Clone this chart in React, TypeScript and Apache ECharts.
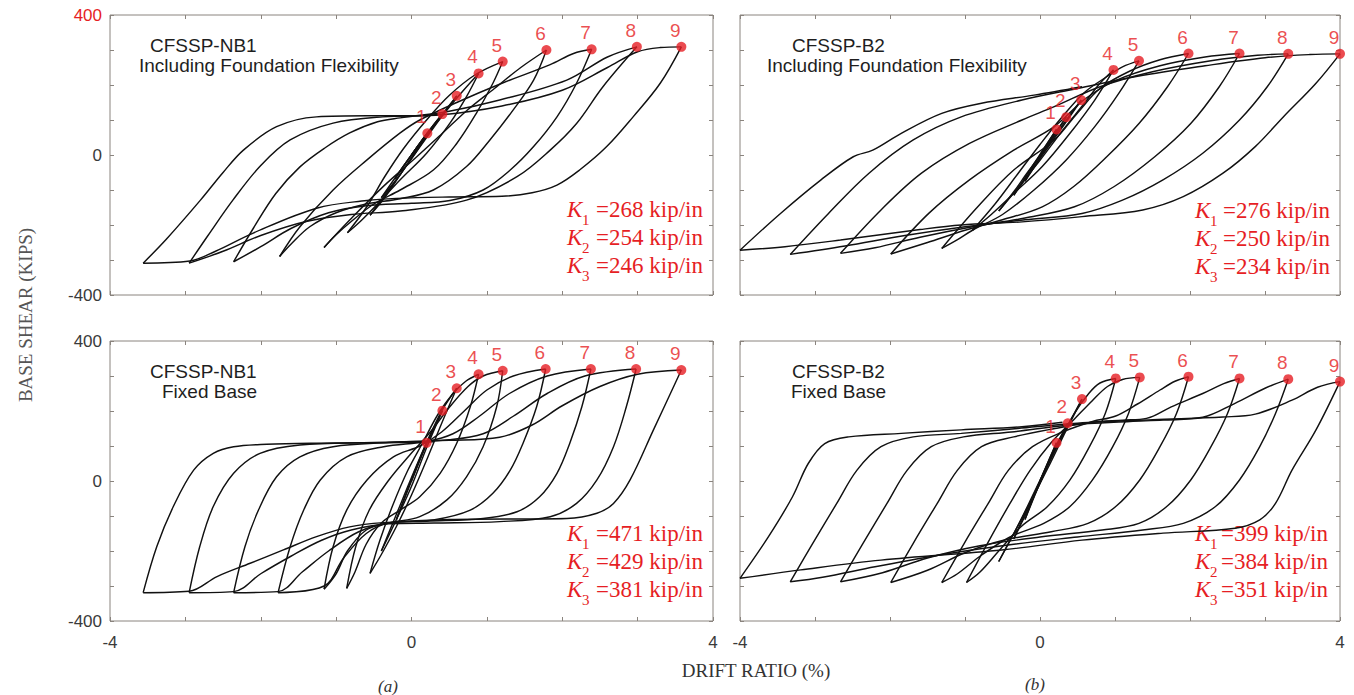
import React, { useEffect, useRef } from "react";
import * as echarts from "echarts";

type Pt = [number, number];

// ---------------- texts ----------------
const PEAK_LABELS = ["1", "2", "3", "4", "5", "6", "7", "8", "9"];
const Y_TICK_LABELS = [-400, 0, 400];
const X_TICK_LABELS = [-4, 0, 4];
const PANEL_TITLES = ["CFSSP-NB1", "CFSSP-B2", "CFSSP-NB1", "CFSSP-B2"];
const PANEL_SUBTITLES = [
  "Including Foundation Flexibility",
  "Including Foundation Flexibility",
  "Fixed Base",
  "Fixed Base",
];
const K_SUBSCRIPTS = ["1", "2", "3"];
const K_VALUES = [
  ["268", "254", "246"],
  ["276", "250", "234"],
  ["471", "429", "381"],
  ["399", "384", "351"],
];
const Y_AXIS_NAME = "BASE SHEAR (KIPS)";
const X_AXIS_NAME = "DRIFT RATIO (%)";
const GROUP_LABELS = ["(a)", "(b)"];

// ---------------- data: CFSSP-NB1, including foundation flexibility ----------------
const NB1_FLEX_PEAKS: Pt[] = [
  [0.21, 62], [0.41, 117], [0.6, 169], [0.89, 233], [1.21, 267],
  [1.79, 300], [2.39, 302], [2.99, 309], [3.58, 309],
];
const NB1_FLEX_LOOPS: Pt[][] = [
  [[0, 0], [0.1, 30], [0.21, 62]],
  [[0.21, 62], [0.05, 15], [-0.1, -30], [-0.22, -68]],
  [[-0.22, -68], [-0.05, -15], [0.15, 45], [0.3, 88], [0.41, 117]],
  [[0.41, 117], [0.2, 60], [0, 0], [-0.2, -60], [-0.4, -122]],
  [[-0.4, -122], [-0.2, -70], [0.05, 5], [0.3, 85], [0.6, 169]],
  [[0.6, 169], [0.45, 125], [0.2, 50], [0, -10], [-0.3, -100], [-0.55, -172]],
  [[-0.55, -172], [-0.35, -120], [-0.1, -40], [0.15, 40], [0.4, 110], [0.65, 175], [0.89, 233]],
  [[0.89, 233], [0.73, 167], [0.51, 91], [0.2, 5], [-0.15, -71], [-0.45, -140], [-0.68, -190], [-0.85, -222]],
  [[-0.85, -222], [-0.6, -150], [-0.35, -60], [-0.1, 20], [0.2, 100], [0.5, 170], [0.85, 230], [1.21, 267]],
  [[1.21, 267], [1.08, 205], [0.86, 119], [0.6, 33], [0.29, -43], [-0.15, -100], [-0.5, -140], [-0.8, -190], [-1.0, -228], [-1.16, -264]],
  [[-1.16, -264], [-0.82, -186], [-0.38, -91], [0.07, -5], [0.4, 60], [0.75, 130], [1.1, 190], [1.45, 250], [1.79, 300]],
  [[1.79, 300], [1.62, 214], [1.35, 129], [1.04, 43], [0.73, -33], [0.29, -100], [-0.15, -125], [-0.6, -140], [-1.0, -165], [-1.35, -205], [-1.6, -255], [-1.75, -290]],
  [[-1.75, -290], [-1.48, -205], [-1.04, -100], [-0.59, -14], [-0.15, 63], [0.11, 100], [0.6, 150], [1.2, 205], [1.84, 258], [2.15, 290], [2.39, 302]],
  [[2.39, 302], [2.19, 205], [1.93, 109], [1.62, 24], [1.31, -43], [0.95, -100], [0.51, -130], [0, -138], [-0.6, -145], [-1.1, -165], [-1.6, -210], [-2.0, -262], [-2.36, -305]],
  [[-2.36, -305], [-2.1, -210], [-1.8, -110], [-1.48, -34], [-1.15, 20], [-0.82, 63], [-0.45, 95], [-0.15, 106], [0.5, 125], [1.17, 157], [2.06, 214], [2.6, 280], [2.99, 309]],
  [[2.99, 309], [2.54, 195], [2.19, 90], [1.84, 14], [1.4, -62], [0.73, -129], [-0.15, -160], [-0.8, -170], [-1.4, -190], [-2.0, -230], [-2.5, -275], [-2.95, -309]],
  [[-2.95, -309], [-2.7, -230], [-2.37, -129], [-2.0, -30], [-1.61, 43], [-1.04, 91], [-0.38, 109], [0.4, 115], [1.2, 140], [2.0, 185], [2.6, 250], [3.0, 295], [3.3, 307], [3.58, 309]],
  [[3.58, 309], [3.3, 205], [2.94, 109], [2.59, 24], [2.23, -43], [1.93, -86], [1.6, -108], [1.2, -118], [0.5, -120], [-0.2, -124], [-0.59, -130], [-1.26, -152], [-2.1, -223], [-2.6, -275], [-2.94, -303], [-3.56, -309]],
  [[-3.56, -309], [-3.25, -240], [-2.8, -129], [-2.5, -50], [-2.23, 14], [-1.79, 81], [-1.26, 109], [-0.59, 112], [0.11, 112], [0.4, 117]],
];

// ---------------- data: CFSSP-B2, including foundation flexibility ----------------
const B2_FLEX_PEAKS: Pt[] = [
  [0.22, 73], [0.35, 108], [0.55, 157], [0.98, 243], [1.32, 269],
  [1.98, 290], [2.66, 290], [3.31, 289], [4.0, 289],
];
const B2_FLEX_LOOPS: Pt[][] = [
  [[0, 0], [0.1, 33], [0.22, 73]],
  [[0.22, 73], [0.05, 18], [-0.08, -28], [-0.2, -75]],
  [[-0.2, -75], [-0.05, -25], [0.15, 45], [0.35, 108]],
  [[0.35, 108], [0.15, 45], [-0.05, -15], [-0.2, -65], [-0.35, -115]],
  [[-0.35, -115], [-0.15, -55], [0.1, 20], [0.35, 95], [0.55, 157]],
  [[0.55, 157], [0.35, 100], [0.1, 25], [-0.15, -45], [-0.35, -105], [-0.55, -160]],
  [[-0.55, -160], [-0.3, -95], [0, -15], [0.3, 70], [0.6, 150], [0.8, 205], [0.98, 243]],
  [[0.98, 243], [0.73, 157], [0.4, 62], [0.03, -33], [-0.35, -110], [-0.65, -170], [-0.9, -215]],
  [[-0.9, -215], [-0.6, -140], [-0.3, -55], [0, 30], [0.3, 110], [0.6, 180], [0.9, 225], [1.1, 252], [1.32, 269]],
  [[1.32, 269], [1.05, 176], [0.73, 81], [0.35, -14], [-0.08, -100], [-0.5, -170], [-0.9, -215], [-1.1, -242], [-1.31, -267]],
  [[-1.31, -267], [-0.83, -148], [-0.35, -43], [0.19, 43], [0.5, 120], [0.8, 190], [1.2, 240], [1.6, 272], [1.98, 290]],
  [[1.98, 290], [1.7, 195], [1.32, 90], [0.89, -5], [0.45, -90], [0.03, -148], [-0.5, -185], [-1.0, -215], [-1.5, -250], [-1.99, -283]],
  [[-1.99, -283], [-1.48, -166], [-0.94, -71], [-0.35, 14], [0.19, 81], [0.6, 160], [1.0, 212], [1.6, 255], [2.2, 280], [2.66, 290]],
  [[2.66, 290], [2.39, 195], [2.01, 90], [1.53, -5], [0.99, -90], [0.46, -148], [-0.2, -180], [-0.9, -205], [-1.6, -235], [-2.2, -265], [-2.66, -281]],
  [[-2.66, -281], [-2.12, -157], [-1.58, -52], [-0.94, 33], [-0.24, 100], [0.19, 138], [0.8, 195], [1.5, 238], [2.3, 270], [2.9, 285], [3.31, 289]],
  [[3.31, 289], [3.03, 195], [2.66, 100], [2.17, 5], [1.64, -71], [1.1, -129], [0.56, -167], [-0.2, -185], [-1.0, -205], [-1.8, -230], [-2.6, -260], [-3.33, -284]],
  [[-3.33, -284], [-2.82, -167], [-2.28, -52], [-1.69, 43], [-1.05, 109], [-0.24, 157], [0.5, 190], [1.3, 225], [2.2, 255], [3.0, 278], [3.6, 287], [4.0, 289]],
  [[4.0, 289], [3.68, 205], [3.25, 110], [2.87, 24], [2.44, -52], [1.91, -119], [1.37, -157], [0.56, -176], [-0.24, -191], [-1.05, -200], [-1.6, -213], [-2.66, -243], [-3.4, -262], [-4.0, -272]],
  [[-4.0, -272], [-3.46, -167], [-2.92, -71], [-2.49, -5], [-2.23, 14], [-1.85, 62], [-1.31, 119], [-0.78, 148], [-0.08, 171], [0.56, 195]],
];

// ---------------- data: CFSSP-NB1, fixed base ----------------
const NB1_FIXED_PEAKS: Pt[] = [
  [0.2, 109], [0.41, 201], [0.6, 265], [0.89, 305], [1.21, 315],
  [1.78, 320], [2.38, 320], [2.98, 320], [3.58, 317],
];
const NB1_FIXED_LOOPS: Pt[][] = [
  [[0, 0], [0.1, 55], [0.2, 109]],
  [[0.2, 109], [0, 5], [-0.2, -110]],
  [[-0.2, -110], [0, 0], [0.2, 105], [0.41, 201]],
  [[0.41, 201], [0.2, 95], [0, -15], [-0.2, -110], [-0.4, -200]],
  [[-0.4, -200], [-0.2, -95], [0, 10], [0.2, 110], [0.4, 200], [0.6, 265]],
  [[0.6, 265], [0.42, 175], [0.22, 70], [0, -40], [-0.2, -130], [-0.4, -210], [-0.55, -264]],
  [[-0.55, -264], [-0.42, -170], [-0.25, -70], [-0.05, 30], [0.15, 110], [0.35, 190], [0.55, 250], [0.72, 285], [0.89, 305]],
  [[0.89, 305], [0.78, 212], [0.6, 108], [0.38, 22], [0.11, -45], [-0.15, -83], [-0.4, -120], [-0.6, -180], [-0.75, -260], [-0.86, -307]],
  [[-0.86, -307], [-0.74, -188], [-0.56, -83], [-0.3, 3], [-0.02, 75], [0.25, 140], [0.5, 210], [0.75, 270], [0.95, 300], [1.21, 315]],
  [[1.21, 315], [1.13, 212], [0.95, 98], [0.73, 12], [0.47, -54], [0.11, -102], [-0.3, -120], [-0.6, -140], [-0.85, -200], [-1.0, -265], [-1.16, -309]],
  [[-1.16, -309], [-1.04, -188], [-0.86, -83], [-0.59, 3], [-0.24, 69], [0.11, 100], [0.4, 140], [0.7, 200], [1.0, 260], [1.35, 300], [1.78, 320]],
  [[1.78, 320], [1.66, 212], [1.48, 108], [1.31, 31], [1.08, -35], [0.78, -83], [0.29, -111], [-0.3, -120], [-0.6, -150], [-0.9, -220], [-1.16, -300], [-1.77, -319]],
  [[-1.77, -319], [-1.61, -188], [-1.43, -83], [-1.21, 3], [-0.86, 69], [-0.37, 98], [0.2, 113], [0.55, 135], [0.9, 185], [1.3, 250], [1.8, 300], [2.38, 320]],
  [[2.38, 320], [2.26, 212], [2.1, 108], [1.93, 22], [1.7, -45], [1.4, -88], [0.95, -107], [0.2, -115], [-0.3, -120], [-0.7, -145], [-1.1, -200], [-1.45, -260], [-1.77, -316], [-2.36, -319]],
  [[-2.36, -319], [-2.21, -188], [-2.03, -83], [-1.79, 12], [-1.48, 69], [-1.04, 98], [-0.3, 110], [0.5, 118], [0.95, 135], [1.35, 185], [1.8, 250], [2.3, 300], [2.98, 320]],
  [[2.98, 320], [2.85, 212], [2.68, 98], [2.46, 3], [2.19, -64], [1.84, -102], [1.17, -116], [0.3, -120], [-0.3, -122], [-0.8, -140], [-1.2, -170], [-1.6, -215], [-2.0, -265], [-2.36, -316], [-2.95, -319]],
  [[-2.95, -319], [-2.81, -188], [-2.63, -73], [-2.36, 22], [-2.01, 79], [-1.48, 103], [-0.5, 110], [0.5, 116], [1.17, 125], [1.6, 160], [2.0, 215], [2.5, 270], [3.0, 305], [3.58, 317]],
  [[3.58, 317], [3.21, 146], [2.9, 3], [2.68, -64], [2.46, -92], [2.06, -107], [0.5, -110], [-0.37, -119], [-0.82, -131], [-1.26, -159], [-1.7, -197], [-2.14, -235], [-2.58, -273], [-2.95, -315], [-3.56, -319]],
  [[-3.56, -319], [-3.38, -188], [-3.16, -73], [-2.89, 31], [-2.63, 79], [-2.36, 98], [-1.92, 105], [-1.26, 108], [0, 110], [0.3, 112]],
];

// ---------------- data: CFSSP-B2, fixed base ----------------
const B2_FIXED_PEAKS: Pt[] = [
  [0.22, 109], [0.37, 165], [0.56, 234], [1.01, 293], [1.33, 296],
  [1.98, 298], [2.66, 293], [3.31, 291], [4.0, 284],
];
const B2_FIXED_LOOPS: Pt[][] = [
  [[0, 0], [0.1, 50], [0.22, 109]],
  [[0.22, 109], [0, 0], [-0.2, -110]],
  [[-0.2, -110], [0, -5], [0.2, 95], [0.37, 165]],
  [[0.37, 165], [0.15, 65], [-0.05, -30], [-0.2, -100], [-0.35, -165]],
  [[-0.35, -165], [-0.15, -70], [0.1, 45], [0.35, 150], [0.56, 234]],
  [[0.56, 234], [0.35, 145], [0.1, 35], [-0.15, -70], [-0.35, -150], [-0.55, -230]],
  [[-0.55, -230], [-0.3, -130], [-0.05, -20], [0.2, 90], [0.45, 190], [0.65, 250], [0.8, 280], [1.01, 293]],
  [[1.01, 293], [0.87, 193], [0.66, 98], [0.4, 3], [0.1, -73], [-0.25, -130], [-0.55, -200], [-0.8, -260], [-0.98, -290]],
  [[-0.98, -290], [-0.7, -178], [-0.4, -64], [-0.13, 31], [0.15, 110], [0.45, 175], [0.7, 230], [0.9, 270], [1.1, 290], [1.33, 296]],
  [[1.33, 296], [1.18, 193], [0.97, 98], [0.7, 3], [0.4, -73], [0.05, -121], [-0.4, -160], [-0.8, -215], [-1.1, -265], [-1.31, -290]],
  [[-1.31, -290], [-1.01, -178], [-0.69, -64], [-0.42, 31], [-0.1, 98], [0.3, 140], [0.7, 170], [1.0, 185], [1.3, 220], [1.6, 260], [1.8, 285], [1.98, 298]],
  [[1.98, 298], [1.82, 193], [1.6, 98], [1.33, 3], [1.01, -73], [0.64, -121], [0.15, -145], [-0.5, -170], [-1.0, -205], [-1.5, -255], [-1.99, -290]],
  [[-1.99, -290], [-1.69, -178], [-1.37, -64], [-1.1, 31], [-0.78, 98], [-0.35, 126], [0.2, 150], [0.7, 168], [1.1, 174], [1.42, 179], [1.75, 212], [2.17, 250], [2.45, 278], [2.66, 293]],
  [[2.66, 293], [2.5, 193], [2.28, 98], [2.01, 3], [1.69, -73], [1.32, -121], [0.83, -140], [0, -160], [-0.8, -185], [-1.5, -220], [-2.1, -262], [-2.66, -288]],
  [[-2.66, -288], [-2.36, -178], [-2.04, -64], [-1.77, 31], [-1.45, 98], [-1.02, 126], [-0.38, 140], [0.4, 160], [1.2, 170], [1.64, 174], [2.17, 182], [2.6, 222], [3.0, 265], [3.31, 291]],
  [[3.31, 291], [3.14, 193], [2.93, 98], [2.66, 3], [2.34, -73], [1.91, -121], [1.37, -140], [0.5, -160], [-0.4, -182], [-1.3, -210], [-2.2, -245], [-2.9, -275], [-3.33, -288]],
  [[-3.33, -288], [-3.03, -178], [-2.71, -64], [-2.44, 31], [-2.12, 98], [-1.69, 126], [-1.05, 136], [-0.3, 150], [0.5, 165], [1.5, 175], [2.44, 183], [2.87, 191], [3.36, 231], [3.7, 268], [4.0, 284]],
  [[4.0, 284], [3.68, 146], [3.36, 31], [3.14, -64], [2.93, -111], [2.6, -135], [1.64, -149], [0.56, -169], [-0.51, -197], [-2.12, -226], [-3.19, -254], [-4.0, -278]],
  [[-4.0, -278], [-3.62, -159], [-3.3, -45], [-3.09, 50], [-2.87, 107], [-2.55, 126], [-1.85, 136], [-1.05, 146], [-0.24, 155], [0.3, 168]],
];

const PANEL_PEAKS = [NB1_FLEX_PEAKS, B2_FLEX_PEAKS, NB1_FIXED_PEAKS, B2_FIXED_PEAKS];
const PANEL_LOOPS = [NB1_FLEX_LOOPS, B2_FLEX_LOOPS, NB1_FIXED_LOOPS, B2_FIXED_LOOPS];

// ---------------- layout & style ----------------
const RED = "#e61e24";
const INK = "#111111";
const FRAME = "#8a847e";
const TICK_TEXT = "#3a3a3a";
const SANS = "'Liberation Sans', Arial, sans-serif";
const SERIF = "'Liberation Serif', 'Times New Roman', serif";

const GRIDS = [
  { left: 110, top: 15, width: 603, height: 280 },
  { left: 740, top: 15, width: 600, height: 280 },
  { left: 110, top: 341, width: 603, height: 280 },
  { left: 740, top: 341, width: 600, height: 280 },
];
const TITLE_POS = [
  [150, 45, 139, 65],
  [792, 45, 767, 65],
  [150, 371, 162, 391],
  [792, 371, 791, 391],
];
// [K x, first line y, right edge of value text]
const K_POS = [
  [567, 209, 703],
  [1195, 210, 1330],
  [567, 533, 703],
  [1195, 533, 1328],
];

function buildOption() {
  const xAxis: any[] = [];
  const yAxis: any[] = [];
  const series: any[] = [];
  const graphic: any[] = [];

  GRIDS.forEach((_, g) => {
    const showX = g >= 2;
    const showY = g % 2 === 0;
    const tick = { show: true, inside: true, length: 4, lineStyle: { color: FRAME, width: 1 } };
    const noLine = { show: false, onZero: false };
    xAxis.push({
      gridIndex: g, type: "value", min: -4, max: 4, interval: 1, position: "bottom",
      axisLine: noLine, axisTick: tick, splitLine: { show: false },
      axisLabel: {
        show: showX, margin: 13, color: TICK_TEXT, fontSize: 17, fontFamily: SANS,
        showMinLabel: true, showMaxLabel: true,
        formatter: (v: number) => (X_TICK_LABELS.includes(v) ? String(v) : ""),
      },
    });
    xAxis.push({
      gridIndex: g, type: "value", min: -4, max: 4, interval: 1, position: "top",
      axisLine: noLine, axisTick: tick, splitLine: { show: false }, axisLabel: { show: false },
    });
    yAxis.push({
      gridIndex: g, type: "value", min: -400, max: 400, interval: 100, position: "left",
      axisLine: noLine, axisTick: tick, splitLine: { show: false },
      axisLabel: {
        show: showY, margin: 8, color: TICK_TEXT, fontSize: 17, fontFamily: SANS,
        showMinLabel: true, showMaxLabel: true,
        formatter: (v: number) => {
          if (!Y_TICK_LABELS.includes(v)) return "";
          if (g === 0 && v === 400) return "{r|" + v + "}";
          return String(v);
        },
        rich: { r: { color: RED, fontSize: 17, fontFamily: SANS } },
      },
    });
    yAxis.push({
      gridIndex: g, type: "value", min: -400, max: 400, interval: 100, position: "right",
      axisLine: noLine, axisTick: tick, splitLine: { show: false }, axisLabel: { show: false },
    });

    PANEL_LOOPS[g].forEach((seg) => {
      series.push({
        type: "line", xAxisIndex: g * 2, yAxisIndex: g * 2, data: seg,
        smooth: 0.35, symbol: "none", showSymbol: false, silent: true, z: 2,
        lineStyle: { color: INK, width: 1.45 },
      });
    });
    series.push({
      type: "scatter", xAxisIndex: g * 2, yAxisIndex: g * 2, data: PANEL_PEAKS[g],
      symbol: "circle", symbolSize: 10, itemStyle: { color: RED }, z: 5, silent: true,
      label: {
        show: true, position: "top", distance: 2, offset: [-6, 0],
        color: RED, fontSize: 19, fontFamily: SANS,
        formatter: (p: any) => PEAK_LABELS[p.dataIndex],
      },
    });

    const [tx, ty, sx, sy] = TITLE_POS[g];
    graphic.push({
      type: "text", x: tx, y: ty, silent: true,
      style: { text: PANEL_TITLES[g], fill: "#1e1e1e", font: `19px ${SANS}`, textAlign: "left", textVerticalAlign: "middle" },
    });
    graphic.push({
      type: "text", x: sx, y: sy, silent: true,
      style: { text: PANEL_SUBTITLES[g], fill: "#1e1e1e", font: `19px ${SANS}`, textAlign: "left", textVerticalAlign: "middle" },
    });

    const [kx, ky, kr] = K_POS[g];
    K_VALUES[g].forEach((val, i) => {
      const y = ky + i * 28;
      graphic.push({
        type: "text", x: kx, y, silent: true,
        style: { text: "K", fill: RED, font: `italic 23px ${SERIF}`, lineHeight: 16, textAlign: "left", textVerticalAlign: "middle" },
      });
      graphic.push({
        type: "text", x: kx + 15, y: y + 11, silent: true,
        style: { text: K_SUBSCRIPTS[i], fill: RED, font: `15px ${SERIF}`, lineHeight: 10, textAlign: "left", textVerticalAlign: "middle" },
      });
      graphic.push({
        type: "text", x: kr, y, silent: true,
        style: { text: "=" + val + " kip/in", fill: RED, font: `23px ${SERIF}`, lineHeight: 16, textAlign: "right", textVerticalAlign: "middle" },
      });
    });
  });

  graphic.push({
    type: "text", x: 25, y: 315, rotation: Math.PI / 2, silent: true,
    style: { text: Y_AXIS_NAME, fill: "#555", font: `19px ${SERIF}`, textAlign: "center", textVerticalAlign: "middle" },
  });
  graphic.push({
    type: "text", x: 756, y: 670, silent: true,
    style: { text: X_AXIS_NAME, fill: "#333", font: `19px ${SERIF}`, textAlign: "center", textVerticalAlign: "middle" },
  });
  graphic.push({
    type: "text", x: 388, y: 686, silent: true,
    style: { text: GROUP_LABELS[0], fill: "#333", font: `italic 17px ${SERIF}`, textAlign: "center", textVerticalAlign: "middle" },
  });
  graphic.push({
    type: "text", x: 1035, y: 684, silent: true,
    style: { text: GROUP_LABELS[1], fill: "#333", font: `italic 17px ${SERIF}`, textAlign: "center", textVerticalAlign: "middle" },
  });

  return {
    animation: false,
    backgroundColor: "#ffffff",
    grid: GRIDS.map((gr) => ({ ...gr, show: true, borderColor: FRAME, borderWidth: 1, backgroundColor: "transparent", containLabel: false })),
    xAxis,
    yAxis,
    series,
    graphic,
  };
}

export default function App() {
  const ref = useRef<HTMLDivElement>(null);
  useEffect(() => {
    if (!ref.current) return;
    const chart = echarts.init(ref.current, null, { renderer: "svg" });
    chart.setOption(buildOption() as any);
    return () => chart.dispose();
  }, []);
  return (
    <div
      ref={ref}
      style={{ position: "fixed", left: 0, top: 0, width: 1354, height: 695, background: "#fff" }}
    />
  );
}
